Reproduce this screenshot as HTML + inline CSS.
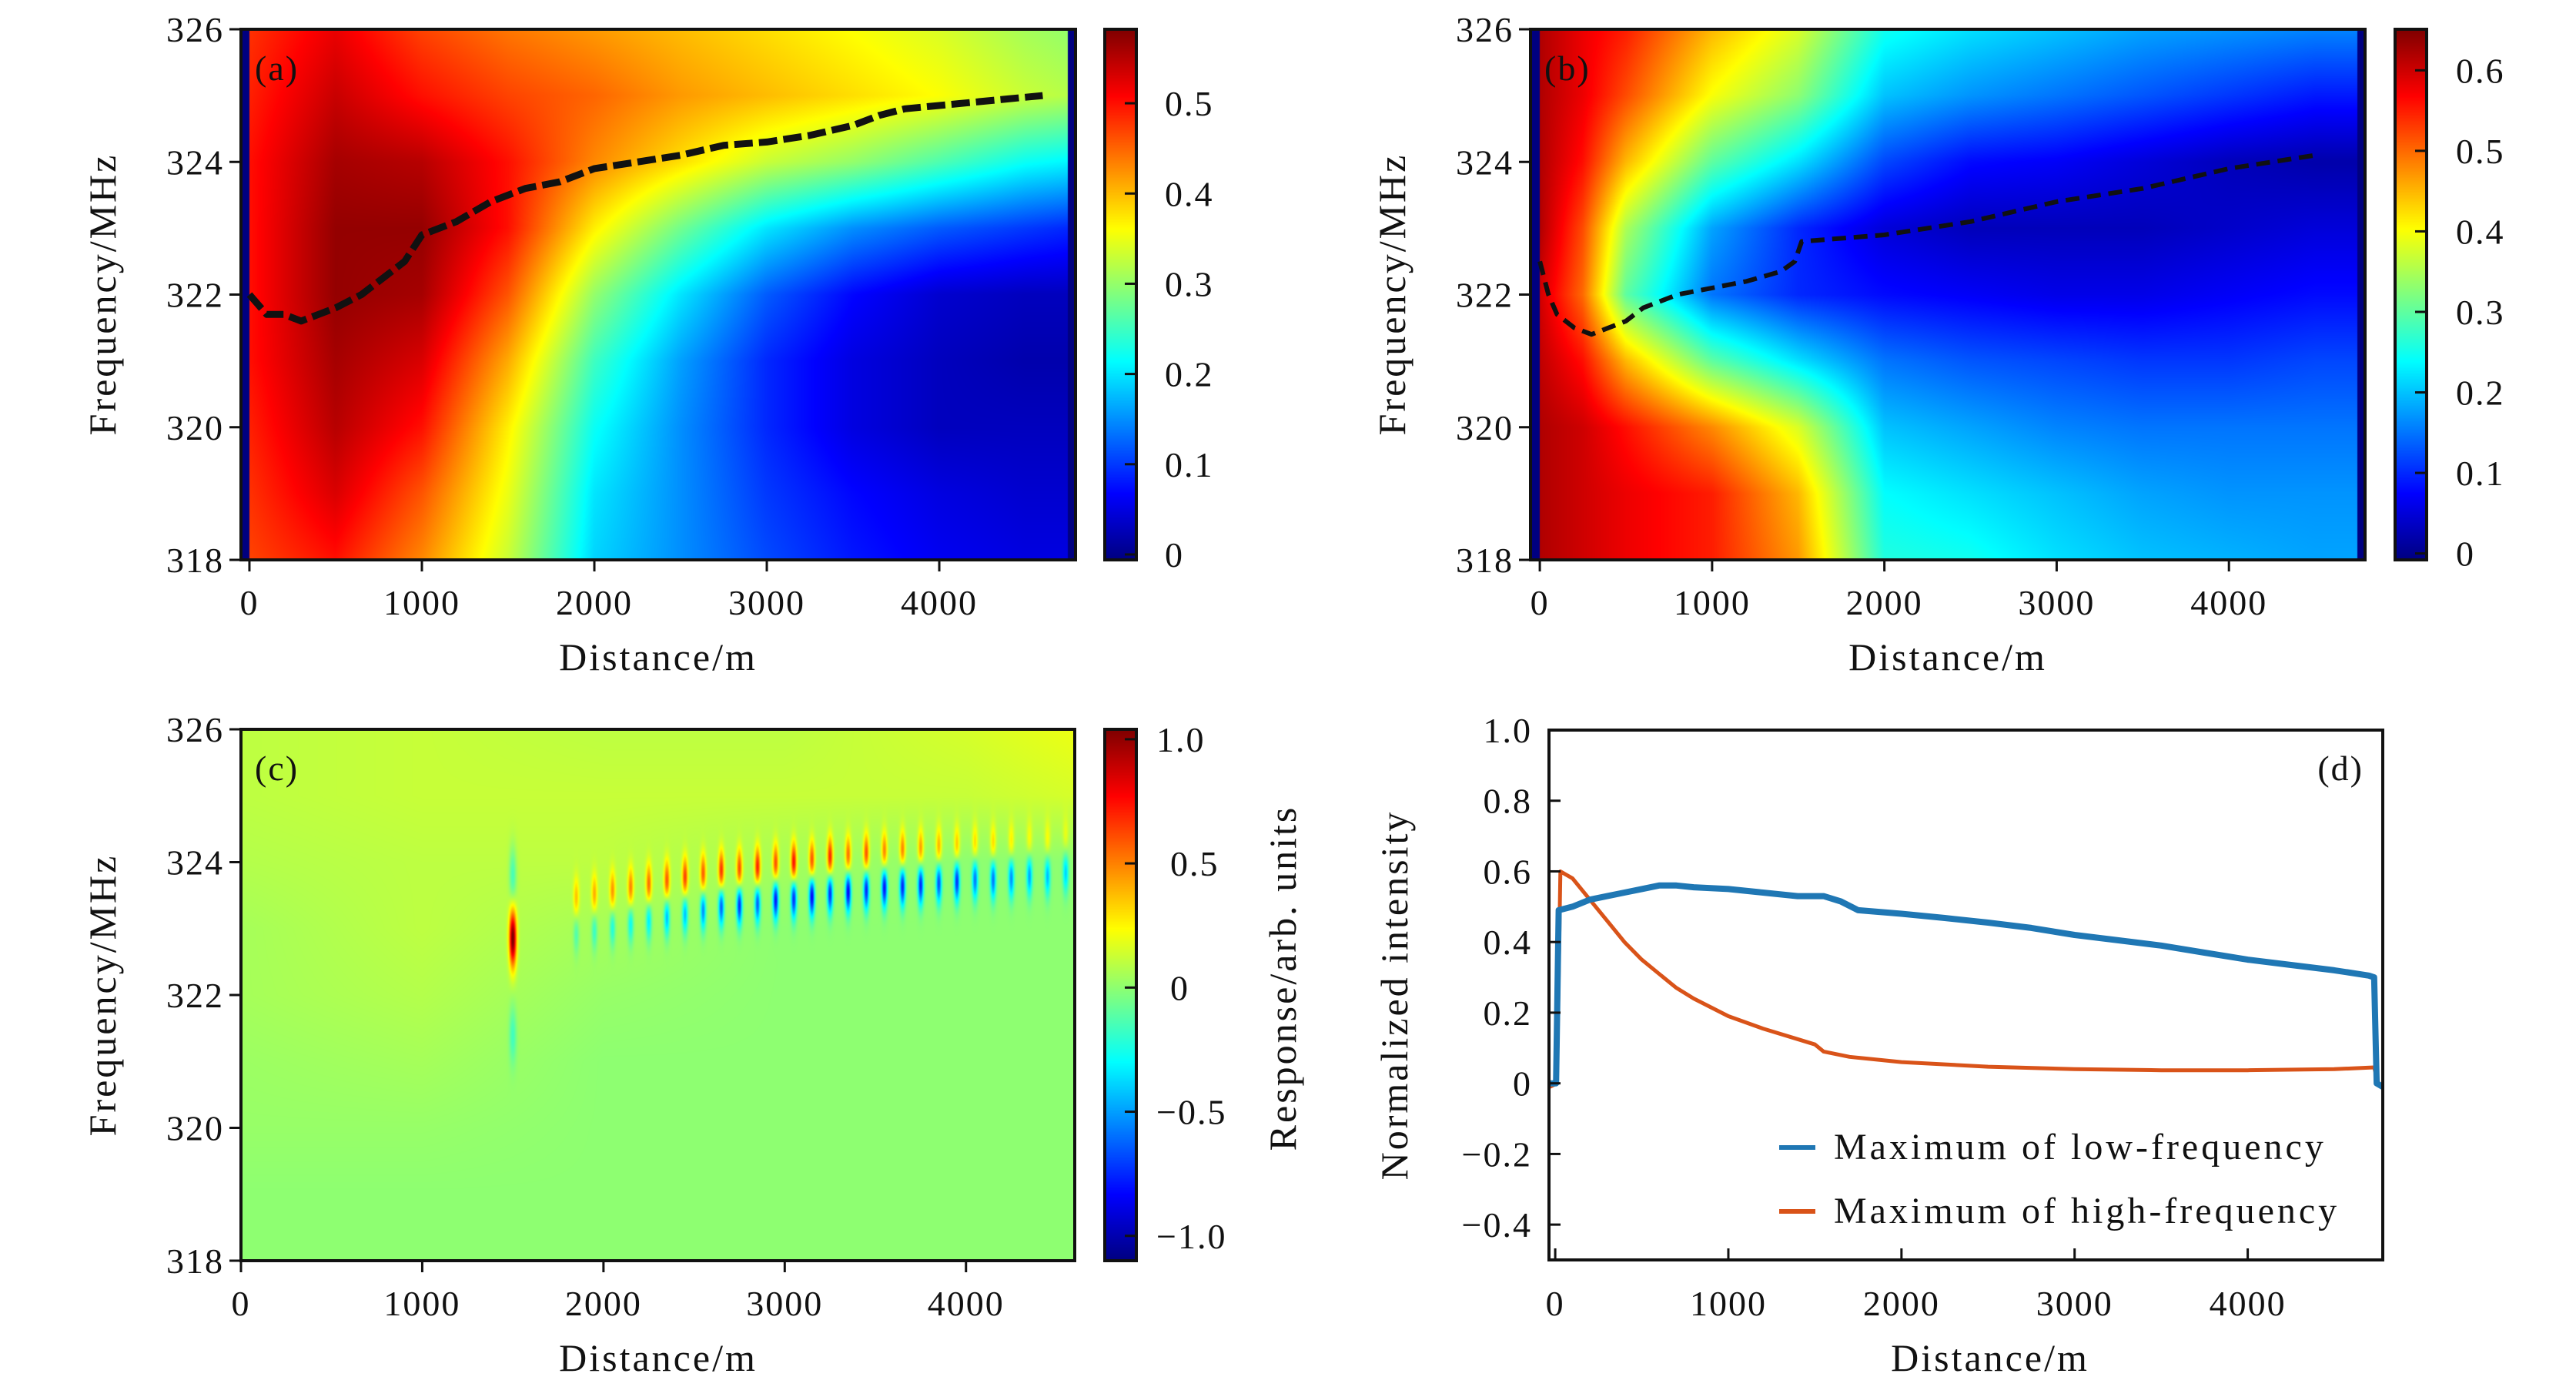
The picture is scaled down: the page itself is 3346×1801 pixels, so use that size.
<!DOCTYPE html>
<html><head><meta charset="utf-8"><title>Spectrum figure</title>
<style>
body{margin:0;width:3346px;height:1801px;background:#fff;position:relative;overflow:hidden}
canvas,svg{position:absolute;left:0;top:0}
text{font-family:"Liberation Serif",serif;fill:#111}
.tl{font-size:46px;letter-spacing:2px}
.ti{font-size:50px;letter-spacing:3px}
</style></head>
<body>
<canvas id="cv" width="3346" height="1801"></canvas>
<svg id="sv" width="3346" height="1801">
  <g class="ti">
    <text x="855" y="870" text-anchor="middle">Distance/m</text>
    <text x="2530" y="870" text-anchor="middle">Distance/m</text>
    <text x="855" y="1780" text-anchor="middle">Distance/m</text>
    <text x="2585" y="1780" text-anchor="middle">Distance/m</text>
    <text transform="translate(150,382) rotate(-90)" text-anchor="middle">Frequency/MHz</text>
    <text transform="translate(1825,382) rotate(-90)" text-anchor="middle">Frequency/MHz</text>
    <text transform="translate(150,1292) rotate(-90)" text-anchor="middle">Frequency/MHz</text>
    <text transform="translate(1683,1270) rotate(-90)" text-anchor="middle">Response/arb. units</text>
    <text transform="translate(1828,1292) rotate(-90)" text-anchor="middle">Normalized intensity</text>
  </g>
  <g class="tl">
    <text x="331" y="104">(a)</text>
    <text x="2006" y="104">(b)</text>
    <text x="331" y="1013">(c)</text>
    <text x="3070" y="1013" text-anchor="end">(d)</text>
  </g>
  <g style="font-size:48px;letter-spacing:4px">
    <text x="2382" y="1505">Maximum of low-frequency</text>
    <text x="2382" y="1588">Maximum of high-frequency</text>
  </g>
  <line x1="2311" y1="1490" x2="2358" y2="1490" stroke="#1f77b4" stroke-width="6"/>
  <line x1="2311" y1="1573" x2="2358" y2="1573" stroke="#d95319" stroke-width="6"/>
</svg>
<script>
// ---------- data ----------
const A_dist=[0,500,1000,1500,2000,2500,3000,3500,4000,4500,4750];
const A_freq=[326,325,324,323,322,321,320,319,318];
const A_val=[
[0.48,0.49,0.5,0.5,0.5,0.5,0.49,0.48,0.47],
[0.52,0.54,0.56,0.57,0.57,0.56,0.55,0.53,0.5],
[0.47,0.5,0.55,0.57,0.56,0.53,0.5,0.46,0.43],
[0.44,0.47,0.5,0.5,0.46,0.41,0.37,0.35,0.33],
[0.42,0.45,0.43,0.37,0.3,0.25,0.22,0.2,0.19],
[0.4,0.42,0.38,0.28,0.2,0.16,0.15,0.15,0.15],
[0.38,0.4,0.33,0.2,0.12,0.09,0.09,0.1,0.11],
[0.36,0.38,0.3,0.15,0.07,0.05,0.05,0.07,0.08],
[0.34,0.36,0.26,0.12,0.04,0.03,0.03,0.05,0.06],
[0.31,0.33,0.22,0.1,0.03,0.02,0.03,0.04,0.05],
[0.3,0.32,0.21,0.09,0.03,0.02,0.03,0.04,0.05]];
const B_dist=[0,250,500,1000,1500,2000,2500,3000,3500,4000,4500,4750];
const B_freq=[326,325,324,323,322,321,320,319,318];
const B_val=[
[0.62,0.62,0.62,0.62,0.6,0.61,0.62,0.62,0.62],
[0.58,0.58,0.56,0.52,0.5,0.56,0.6,0.6,0.6],
[0.55,0.52,0.45,0.35,0.3,0.45,0.56,0.58,0.58],
[0.45,0.4,0.3,0.18,0.15,0.3,0.48,0.55,0.55],
[0.38,0.33,0.22,0.1,0.1,0.22,0.38,0.45,0.47],
[0.25,0.2,0.12,0.05,0.08,0.15,0.2,0.24,0.26],
[0.22,0.17,0.08,0.03,0.07,0.13,0.18,0.22,0.25],
[0.2,0.15,0.07,0.03,0.06,0.12,0.16,0.2,0.22],
[0.18,0.13,0.05,0.03,0.06,0.11,0.15,0.18,0.2],
[0.17,0.11,0.03,0.04,0.07,0.11,0.15,0.17,0.19],
[0.16,0.09,0.02,0.05,0.08,0.12,0.15,0.17,0.18],
[0.16,0.09,0.02,0.05,0.08,0.12,0.15,0.17,0.18]];
const C_dist=[0,1000,2000,3000,4000,4600];
const C_freq=[326,325,324,323,322,321,320,319,318];
const C_val=[
[0.1,0.1,0.08,0.05,0.05,0.03,0.02,0,0],
[0.12,0.12,0.1,0.1,0.08,0.05,0.02,0,0],
[0.1,0.12,0.1,0.05,0.02,0,0,0,0],
[0.1,0.12,0.05,0,0,0,0,0,0],
[0.15,0.12,0,0,0,0,0,0,0],
[0.2,0.15,0,0,0,0,0,0,0]];
const C_rippleDist=[1850,1950,2050,2150,2250,2350,2450,2550,2650,2750,2850,2950,3050,3150,3250,3350,3450,3550,3650,3750,3850,3950,4050,4150,4250,4350,4450,4550];
const C_rippleFreq=[323.2,323.25,323.3,323.35,323.4,323.45,323.5,323.55,323.6,323.62,323.65,323.7,323.72,323.75,323.8,323.82,323.85,323.88,323.9,323.92,323.95,323.97,324.0,324.0,324.02,324.05,324.05,324.1];
const C_ripplePos=[0.3,0.35,0.4,0.45,0.5,0.55,0.6,0.55,0.65,0.6,0.7,0.6,0.75,0.6,0.7,0.55,0.6,0.5,0.5,0.45,0.4,0.35,0.3,0.3,0.25,0.2,0.2,0.15];
const C_rippleNeg=[-0.2,-0.25,-0.3,-0.35,-0.4,-0.5,-0.5,-0.6,-0.7,-0.8,-0.7,-0.85,-0.8,-0.9,-0.8,-0.9,-0.8,-0.85,-0.8,-0.8,-0.7,-0.75,-0.6,-0.6,-0.55,-0.5,-0.45,-0.4];
const C_spikeDist=[1500,1500,1500];
const C_spikeFreq=[322.85,323.8,321.4];
const C_spikeAmp=[1.0,-0.25,-0.2];
const A_ridgeDist=[0,100,200,300,400,500,650,800,900,1000,1200,1400,1600,1800,2000,2250,2500,2750,3000,3250,3500,3650,3800,4000,4200,4400,4600];
const A_ridgeFreq=[322.0,321.7,321.7,321.6,321.7,321.8,322.0,322.3,322.5,322.9,323.1,323.4,323.6,323.7,323.9,324.0,324.1,324.25,324.3,324.4,324.55,324.7,324.8,324.85,324.9,324.95,325.0];
const B_ridgeDist=[0,50,100,200,300,400,500,600,800,1000,1200,1400,1480,1520,2000,2500,3000,3500,4000,4500];
const B_ridgeFreq=[322.5,322.0,321.7,321.5,321.4,321.5,321.6,321.8,322.0,322.1,322.2,322.35,322.5,322.8,322.9,323.1,323.4,323.6,323.9,324.1];
const D_lowDist=[-30,5,20,100,200,300,400,500,600,700,800,1000,1200,1400,1550,1650,1750,2000,2250,2500,2750,3000,3250,3500,3750,4000,4250,4500,4700,4730,4745,4780];
const D_lowVal=[0,0,0.49,0.5,0.52,0.53,0.54,0.55,0.56,0.56,0.555,0.55,0.54,0.53,0.53,0.515,0.49,0.48,0.468,0.455,0.44,0.42,0.405,0.39,0.37,0.35,0.335,0.32,0.305,0.3,0,-0.01];
const D_highDist=[-30,10,30,100,200,300,400,500,600,700,800,1000,1200,1400,1500,1550,1700,2000,2500,3000,3500,4000,4500,4730,4755,4780];
const D_highVal=[-0.01,0,0.6,0.58,0.52,0.46,0.4,0.35,0.31,0.27,0.24,0.19,0.155,0.125,0.11,0.09,0.075,0.06,0.047,0.04,0.037,0.037,0.04,0.045,0,-0.01];
const xTicks=[0,1000,2000,3000,4000];
const yTicksF=[318,320,322,324,326];
const yTicksD=[-0.4,-0.2,0,0.2,0.4,0.6,0.8,1.0];
const yTickLabelsD=["\u22120.4","\u22120.2","0","0.2","0.4","0.6","0.8","1.0"];
const cbTicksA=[0,0.1,0.2,0.3,0.4,0.5];
const cbTicksB=[0,0.1,0.2,0.3,0.4,0.5,0.6];
const cbTicksC=[-1,-0.5,0,0.5,1];
const cbLabelsC=["\u22121.0","\u22120.5","0","0.5","1.0"];

// ---------- layout ----------
const PA={x0:313,x1:1397,y0:38,y1:727,dmin:-49,dmax:4790,fmin:318,fmax:326};
const PB={x0:1988,x1:3072,y0:38,y1:727,dmin:-54,dmax:4790,fmin:318,fmax:326};
const PC={x0:313,x1:1396,y0:947,y1:1637,dmin:0,dmax:4600,fmin:318,fmax:326};
const PD={x0:2012,x1:3095,y0:948,y1:1636,dmin:-36,dmax:4780,fmin:-0.5,fmax:1.0};
const CBA={x0:1435,x1:1476,y0:38,y1:727,vmin:-0.006,vmax:0.582};
const CBB={x0:3111,x1:3152,y0:38,y1:727,vmin:-0.008,vmax:0.651};
const CBC={x0:1435,x1:1476,y0:947,y1:1637,vmin:-1.10,vmax:1.04};

const NS="http://www.w3.org/2000/svg";
const sv=document.getElementById('sv');
const ctx=document.getElementById('cv').getContext('2d');
function sx(p,d){return p.x0+(d-p.dmin)/(p.dmax-p.dmin)*(p.x1-p.x0);}
function sy(p,f){return p.y1-(f-p.fmin)/(p.fmax-p.fmin)*(p.y1-p.y0);}
function dOf(p,x){return p.dmin+(x-p.x0)/(p.x1-p.x0)*(p.dmax-p.dmin);}
function fOf(p,y){return p.fmin+(p.y1-y)/(p.y1-p.y0)*(p.fmax-p.fmin);}
function cl(v){return v<0?0:v>1?1:v;}
function jet(t){t=cl(t);return [cl(1.5-Math.abs(4*t-3)),cl(1.5-Math.abs(4*t-2)),cl(1.5-Math.abs(4*t-1))];}
function grid(dist,freq,val,d,f){
  let i=0;while(i<dist.length-2&&d>dist[i+1])i++;
  let tx=cl((d-dist[i])/(dist[i+1]-dist[i]));
  let j=0;while(j<freq.length-2&&f<freq[j+1])j++;
  let ty=cl((freq[j]-f)/(freq[j]-freq[j+1]));
  const a=val[i][j],b=val[i+1][j],c=val[i][j+1],e=val[i+1][j+1];
  return (a*(1-tx)+b*tx)*(1-ty)+(c*(1-tx)+e*tx)*ty;
}
function drawHeat(p,cb,fn){
  const w=p.x1-p.x0,h=p.y1-p.y0;
  const img=ctx.createImageData(w,h);
  for(let yy=0;yy<h;yy++){
    const f=fOf(p,p.y0+yy+0.5);
    for(let xx=0;xx<w;xx++){
      const d=dOf(p,p.x0+xx+0.5);
      const v=fn(d,f);
      const c=jet((v-cb.vmin)/(cb.vmax-cb.vmin));
      const k=(yy*w+xx)*4;
      img.data[k]=c[0]*255;img.data[k+1]=c[1]*255;img.data[k+2]=c[2]*255;img.data[k+3]=255;
    }
  }
  ctx.putImageData(img,p.x0,p.y0);
}
function drawCB(cb){
  const h=cb.y1-cb.y0;
  for(let yy=0;yy<h;yy++){
    const c=jet(1-yy/h);
    ctx.fillStyle='rgb('+Math.round(c[0]*255)+','+Math.round(c[1]*255)+','+Math.round(c[2]*255)+')';
    ctx.fillRect(cb.x0,cb.y0+yy,cb.x1-cb.x0,1);
  }
}
drawHeat(PA,CBA,(d,f)=> (d<0||d>4745)?CBA.vmin:grid(A_dist,A_freq,A_val,d,f));
drawHeat(PB,CBB,(d,f)=> (d<0||d>4745)?CBB.vmin:grid(B_dist,B_freq,B_val,d,f));
drawHeat(PC,CBC,(d,f)=>{
  let v=grid(C_dist,C_freq,C_val,d,f);
  for(let i=0;i<C_rippleDist.length;i++){
    const dx=d-C_rippleDist[i]; if(Math.abs(dx)>50)continue;
    const gx=Math.exp(-dx*dx/(2*11*11));
    const fp=f-(C_rippleFreq[i]+0.25), fn=f-(C_rippleFreq[i]-0.25);
    v+=gx*(C_ripplePos[i]*Math.exp(-fp*fp/(2*0.22*0.22))+C_rippleNeg[i]*Math.exp(-fn*fn/(2*0.22*0.22)));
  }
  for(let i=0;i<C_spikeDist.length;i++){
    const dx=d-C_spikeDist[i]; if(Math.abs(dx)>60)continue;
    const ff=f-C_spikeFreq[i];
    v+=C_spikeAmp[i]*Math.exp(-dx*dx/(2*14*14))*Math.exp(-ff*ff/(2*0.3*0.3));
  }
  return v;
});
drawCB(CBA);drawCB(CBB);drawCB(CBC);

function el(tag,attrs,parent){const e=document.createElementNS(NS,tag);for(const k in attrs)e.setAttribute(k,attrs[k]);(parent||sv).appendChild(e);return e;}
function poly(p,ds,vs,stroke,sw,dash){
  const pts=ds.map((d,i)=>sx(p,d).toFixed(1)+','+sy(p,vs[i]).toFixed(1)).join(' ');
  const a={points:pts,fill:'none',stroke:stroke,'stroke-width':sw,'stroke-linejoin':'round'};
  if(dash)a['stroke-dasharray']=dash;
  return el('polyline',a);
}
let r=poly(PA,A_ridgeDist,A_ridgeFreq,'#111',9,'24 8');


r=poly(PB,B_ridgeDist,B_ridgeFreq,'#111',6,'18 10');


r=poly(PD,D_highDist,D_highVal,'#d95319',5);


r=poly(PD,D_lowDist,D_lowVal,'#1f77b4',8);



function frame(p,name){
  const e=el('rect',{x:p.x0,y:p.y0,width:p.x1-p.x0,height:p.y1-p.y0,fill:'none',stroke:'#111','stroke-width':4});
  
  
}
function axes(p,pre,yt,ylab,inward,xlabY){
  const dir=inward?-1:1;
  xTicks.forEach(d=>{
    const x=sx(p,d);
    const t=el('line',{x1:x,x2:x,y1:p.y1,y2:p.y1+15*dir,stroke:'#111','stroke-width':3});
    
    
    const tx=el('text',{x:x,y:xlabY,'text-anchor':'middle','class':'tl'});
    tx.textContent=String(d);
    
    
  });
  yt.forEach((v,i)=>{
    const y=sy(p,v);
    const t=el('line',{x1:p.x0,x2:p.x0-15*dir,y1:y,y2:y,stroke:'#111','stroke-width':3});
    
    
    const tx=el('text',{x:p.x0-22,y:y+16,'text-anchor':'end','class':'tl'});
    tx.textContent=ylab[i];
    
    
  });
}
function cbAxis(cb,ticks,labels,pre,lx){
  const e=el('rect',{x:cb.x0,y:cb.y0,width:cb.x1-cb.x0,height:cb.y1-cb.y0,fill:'none',stroke:'#111','stroke-width':4});
  
  
  ticks.forEach((v,i)=>{
    const y=cb.y1-(v-cb.vmin)/(cb.vmax-cb.vmin)*(cb.y1-cb.y0);
    const t=el('line',{x1:cb.x1,x2:cb.x1-15,y1:y,y2:y,stroke:'#111','stroke-width':3});
    
    
    const tx=el('text',{x:lx+(labels[i].charAt(0)==='\u2212'?0:(labels[i]==='1.0'?0:18)),y:y+16,'class':'tl'});
    tx.textContent=labels[i];
    
    
  });
}
frame(PA,'a-plot-frame');frame(PB,'b-plot-frame');frame(PC,'c-plot-frame');frame(PD,'d-plot-frame');
const fl=yTicksF.map(String);
axes(PA,'a',yTicksF,fl,false,798);
axes(PB,'b',yTicksF,fl,false,798);
axes(PC,'c',yTicksF,fl,false,1708);
axes(PD,'d',yTicksD,yTickLabelsD,true,1708);
cbAxis(CBA,cbTicksA,cbTicksA.map(v=>v===0?'0':v.toFixed(1)),'a',1495);
cbAxis(CBB,cbTicksB,cbTicksB.map(v=>v===0?'0':v.toFixed(1)),'b',3172);
cbAxis(CBC,cbTicksC,cbLabelsC,'c',1502);
</script>
</body></html>
